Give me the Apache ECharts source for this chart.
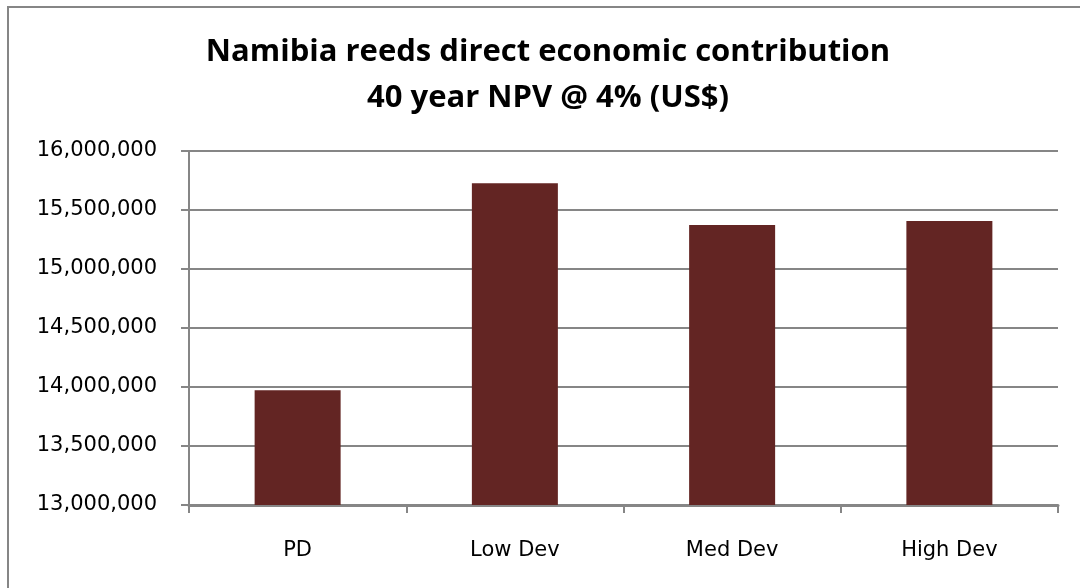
<!DOCTYPE html>
<html>
<head>
<meta charset="utf-8">
<script src="https://cdn.jsdelivr.net/npm/echarts@6/dist/echarts.min.js"></script>
<style>
  html, body { margin: 0; padding: 0; background: #ffffff; }
  #chart { width: 1080px; height: 588px; }
</style>
</head>
<body>
<div id="chart"></div>
<script>
// Scenario categories and their 40-year NPV (US$)
const categories = ['PD', 'Low Dev', 'Med Dev', 'High Dev'];
const npvValues = [13972000, 15726000, 15373000, 15407000];
const titleLines = ['Namibia reeds direct economic contribution', '40 year NPV @ 4% (US$)'];

const axisGray = '#868686';
const labelFont = 'DejaVu Sans';

const chart = echarts.init(document.getElementById('chart'), null, { renderer: 'canvas' });

chart.setOption({
  backgroundColor: '#ffffff',
  animation: false,
  title: {
    text: titleLines.join('\n'),
    left: 548,
    textAlign: 'center',
    top: 29,
    padding: 0,
    textStyle: {
      fontFamily: 'Open Sans',
      fontWeight: 'bold',
      fontSize: 31,
      lineHeight: 46,
      color: '#000000'
    }
  },
  graphic: [{
    type: 'rect',
    shape: { x: 8, y: 7, width: 1200, height: 700 },
    style: { fill: 'none', stroke: axisGray, lineWidth: 2 },
    silent: true
  }],
  grid: { left: 189, right: 22, top: 151, bottom: 83, containLabel: false },
  xAxis: {
    type: 'category',
    data: categories,
    axisLine: { show: true, lineStyle: { color: axisGray, width: 3 } },
    axisTick: { show: true, alignWithLabel: false, length: 8, lineStyle: { color: axisGray, width: 2 } },
    axisLabel: { fontFamily: labelFont, fontSize: 21, color: '#000000', margin: 35 },
    splitLine: { show: false }
  },
  yAxis: {
    type: 'value',
    min: 13000000,
    max: 16000000,
    interval: 500000,
    axisLine: { show: true, lineStyle: { color: axisGray, width: 2 } },
    axisTick: { show: true, length: 8, lineStyle: { color: axisGray, width: 2 } },
    axisLabel: {
      fontFamily: labelFont,
      fontSize: 21,
      color: '#000000',
      margin: 32,
      formatter: v => v.toLocaleString('en-US')
    },
    splitLine: { show: true, lineStyle: { color: axisGray, width: 2 } }
  },
  series: [{
    type: 'bar',
    data: npvValues,
    barWidth: 86,
    itemStyle: { color: '#632523' }
  }]
});
</script>
</body>
</html>
